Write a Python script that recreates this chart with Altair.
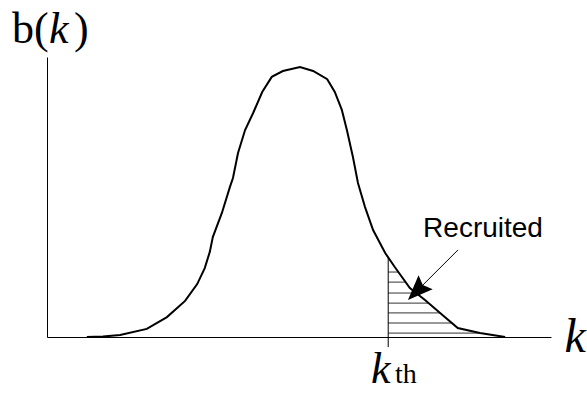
import altair as alt
import pandas as pd
import numpy as np

# ---- data (k in arbitrary units 0..10, b normalised 0..1) ----
k_vals = [0.79, 1.11, 1.45, 1.98, 2.38, 2.74, 2.98, 3.13, 3.23, 3.29,
          3.47, 3.63, 3.69, 3.79, 3.93, 4.09, 4.27, 4.46, 4.68, 5.02,
          5.28, 5.56, 5.71, 5.85, 5.95, 6.07, 6.17, 6.31, 6.47, 6.71,
          6.90, 7.20, 7.50, 7.80, 8.15, 8.59, 9.09]
b_vals = [0.0, 0.002, 0.007, 0.029, 0.071, 0.129, 0.189, 0.246, 0.304, 0.357,
          0.443, 0.536, 0.568, 0.657, 0.739, 0.800, 0.875, 0.929, 0.950, 0.964,
          0.950, 0.921, 0.875, 0.811, 0.739, 0.643, 0.550, 0.464, 0.382, 0.300,
          0.250, 0.175, 0.132, 0.086, 0.032, 0.014, 0.0]

k_th = 6.77
hatch_levels = [0.232, 0.196, 0.157, 0.121, 0.086, 0.050, 0.014]

# arrow (shaft start, head centre) in data units
arrow_k = [8.155, 7.337]
arrow_b = [0.311, 0.164]

# annotation texts
serif_texts = ["b(", ")", "th"]
serif_k = [-0.694, 0.536, 6.905]
serif_b = [1.05, 1.05, -0.164]
serif_size = [44, 44, 28]

italic_texts = ["k", "k", "k"]
italic_k = [0.04, 10.27, 6.43]
italic_b = [1.05, -0.054, -0.164]
italic_size = [44, 48, 44]

label_text = ["Recruited"]
label_k = [8.651]
label_b = [0.357]

# ---- tables ----
curve = pd.DataFrame({"k": k_vals, "b": b_vals, "i": range(len(k_vals))})
peak = int(np.argmax(b_vals))
kd = np.array(k_vals[peak:])[::-1]
bd = np.array(b_vals[peak:])[::-1]
hatch = pd.DataFrame({
    "k0": [k_th] * len(hatch_levels),
    "k1": [float(np.interp(l, bd, kd)) for l in hatch_levels],
    "level": hatch_levels,
})
vline = pd.DataFrame({"k": [k_th], "b0": [-0.036],
                      "b1": [float(np.interp(k_th, k_vals, b_vals))]})
shaft = pd.DataFrame({"k0": [arrow_k[0]], "b0": [arrow_b[0]],
                      "k1": [arrow_k[1]], "b1": [arrow_b[1]]})
head = pd.DataFrame({"k": [arrow_k[1]], "b": [arrow_b[1]]})
serif_df = pd.DataFrame({"t": serif_texts, "k": serif_k, "b": serif_b, "s": serif_size})
italic_df = pd.DataFrame({"t": italic_texts, "k": italic_k, "b": italic_b, "s": italic_size})
label_df = pd.DataFrame({"t": label_text, "k": label_k, "b": label_b})

xs = alt.Scale(domain=[0, 10], nice=False, zero=False)
ys = alt.Scale(domain=[0, 1], nice=False, zero=False)

def X(f):
    return alt.X(f, type="quantitative", scale=xs, title=None)

def Y(f):
    return alt.Y(f, type="quantitative", scale=ys, title=None)

hatch_layer = alt.Chart(hatch).mark_rule(color="#333333", strokeWidth=1).encode(
    x=X("k0"), x2="k1", y=Y("level"))

vline_layer = alt.Chart(vline).mark_rule(color="black", strokeWidth=1).encode(
    x=X("k"), y=Y("b0"), y2="b1")

curve_layer = alt.Chart(curve).mark_line(color="black", strokeWidth=2).encode(
    x=X("k"), y=Y("b"), order="i:Q")

shaft_layer = alt.Chart(shaft).mark_rule(color="black", strokeWidth=1).encode(
    x=X("k0"), y=Y("b0"), x2="k1", y2="b1")

head_layer = alt.Chart(head).mark_point(
    shape="M0,-1 L0.8,1 L0,0.68 L-0.8,1 Z", angle=225, size=625,
    filled=True, color="black", opacity=1, strokeWidth=0).encode(
    x=X("k"), y=Y("b"))

serif_layer = alt.Chart(serif_df).mark_text(
    font="Liberation Serif", align="left", baseline="alphabetic", color="black").encode(
    x=X("k"), y=Y("b"), text="t:N", size=alt.Size("s:Q", scale=None))

italic_layer = alt.Chart(italic_df).mark_text(
    font="Liberation Serif", fontStyle="italic", align="left",
    baseline="alphabetic", color="black").encode(
    x=X("k"), y=Y("b"), text="t:N", size=alt.Size("s:Q", scale=None))

label_layer = alt.Chart(label_df).mark_text(
    font="Liberation Sans", fontSize=28, align="center",
    baseline="alphabetic", color="black").encode(
    x=X("k"), y=Y("b"), text="t:N")

chart = alt.layer(
    hatch_layer, vline_layer, curve_layer, shaft_layer, head_layer,
    serif_layer, italic_layer, label_layer
).properties(
    width=504, height=280,
    padding={"left": 47, "top": 57, "right": 36, "bottom": 56},
    autosize=alt.AutoSizeParams(type="none"),
    background="white",
).configure_view(stroke=None).configure_axis(
    domainColor="black", domainWidth=1, ticks=False, labels=False,
    grid=False, title=None
)

chart.save("out.html", embed_options={"renderer": "svg", "actions": False})
